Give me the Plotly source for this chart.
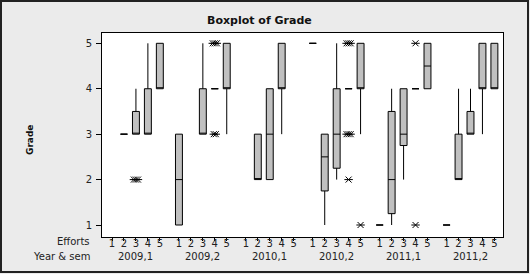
import plotly.graph_objects as go

# ---- data ----
year_sem = ["2009,1", "2009,2", "2010,1", "2010,2", "2011,1", "2011,2"]
efforts = [1, 2, 3, 4, 5]

# box statistics per (year_sem, effort); None = no data
q1 = [
    [None, 3, 3, 3, 4],
    [1, None, 3, 4, 4],
    [None, 2, 2, 4, None],
    [5, 1.75, 2.25, 4, 4],
    [1, 1.25, 2.75, 4, 4],
    [1, 2, 3, 4, 4],
]
median = [
    [None, 3, 3, 3, 4],
    [2, None, 3, 4, 4],
    [None, 2, 3, 4, None],
    [5, 2.5, 3, 4, 4],
    [1, 2, 3, 4, 4.5],
    [1, 2, 3, 4, 4],
]
q3 = [
    [None, 3, 3.5, 4, 5],
    [3, None, 4, 4, 5],
    [None, 3, 4, 5, None],
    [5, 3, 4, 4, 5],
    [1, 3.5, 4, 4, 5],
    [1, 3, 3.5, 5, 5],
]
low = [
    [None, 3, 3, 3, 4],
    [1, None, 3, 4, 3],
    [None, 2, 2, 3, None],
    [5, 1, 2, 4, 3],
    [1, 1, 2, 4, 4],
    [1, 2, 3, 3, 4],
]
high = [
    [None, 3, 4, 5, 5],
    [3, None, 5, 4, 5],
    [None, 3, 4, 5, None],
    [5, 3, 5, 4, 5],
    [1, 4, 4, 4, 5],
    [1, 4, 4, 5, 5],
]
# outliers: (year_sem index, effort, value, count of tied points)
outliers = [
    (0, 3, 2, 3),
    (1, 4, 5, 3),
    (1, 4, 3, 2),
    (3, 4, 5, 3),
    (3, 4, 3, 3),
    (3, 4, 2, 1),
    (3, 5, 1, 1),
    (4, 4, 5, 1),
    (4, 4, 1, 1),
]

# ---- layout helpers ----
GROUP_STEP = 5.6
def pos(g, e):
    return g * GROUP_STEP + (e - 1)

L, R, T, B = 102, 503, 33, 237
W, H = 530, 274
def px_x(p):
    return (p - L) / (R - L)
def px_y(p):
    return (B - p) / (B - T)

FONT = "DejaVu Sans"

xs, bq1, bmed, bq3, blo, bhi = [], [], [], [], [], []
for g in range(len(year_sem)):
    for i, e in enumerate(efforts):
        if q1[g][i] is None:
            continue
        xs.append(pos(g, e))
        bq1.append(q1[g][i]); bmed.append(median[g][i]); bq3.append(q3[g][i])
        blo.append(low[g][i]); bhi.append(high[g][i])

fig = go.Figure()
fig.add_trace(go.Box(
    x=xs, q1=bq1, median=bmed, q3=bq3, lowerfence=blo, upperfence=bhi,
    width=0.58, whiskerwidth=0, boxpoints=False,
    fillcolor="#C0C0C0", line=dict(color="black", width=1),
    hoverinfo="skip", showlegend=False,
))

ox, oy = [], []
for g, e, v, n in outliers:
    for k in range(n):
        off = (k - (n - 1) / 2) * 0.17
        ox.append(pos(g, e) + off)
        oy.append(v)
for sym in ["x-thin-open", "line-ew-open"]:
    fig.add_trace(go.Scatter(
        x=ox, y=oy, mode="markers",
        marker=dict(symbol=sym, size=6, color="black",
                    line=dict(color="black", width=1)),
        showlegend=False, hoverinfo="skip",
    ))

tickvals = [pos(g, e) for g in range(len(year_sem)) for e in efforts]
ticktext = [str(e) for g in range(len(year_sem)) for e in efforts]

fig.update_xaxes(
    range=[-0.84, 32.72], tickvals=tickvals, ticktext=ticktext,
    showgrid=False, zeroline=False, showline=True, mirror=True,
    linecolor="black", linewidth=1, ticks="outside", ticklen=3,
    tickcolor="black", tickfont=dict(family=FONT, size=10, color="#222"),
    ticklabelstandoff=-6,
)
fig.update_yaxes(
    range=[0.736, 5.227], tickvals=[1, 2, 3, 4, 5],
    showgrid=False, zeroline=False, showline=True, mirror=True,
    linecolor="black", linewidth=1, ticks="outside", ticklen=5,
    tickcolor="black", tickfont=dict(family=FONT, size=10, color="#222"),
    ticklabelstandoff=2,
)

ann = [
    dict(text="<b>Boxplot of Grade</b>", x=px_x(259.5), y=px_y(20),
         font=dict(family=FONT, size=11, color="#111")),
    dict(text="<b>Grade</b>", x=px_x(30), y=px_y(140), textangle=-90,
         font=dict(family=FONT, size=9, color="#111")),
    dict(text="Efforts", x=px_x(92), y=px_y(242), xanchor="right",
         font=dict(family=FONT, size=10, color="#222")),
    dict(text="Year & sem", x=px_x(92), y=px_y(256), xanchor="right",
         font=dict(family=FONT, size=10, color="#222")),
]
for a in ann:
    a.setdefault("xanchor", "center")
    a.update(xref="paper", yref="paper", yanchor="middle", showarrow=False)
for g, lab in enumerate(year_sem):
    ann.append(dict(text=lab, x=pos(g, 3), xref="x", y=px_y(256), yref="paper",
                    xanchor="center", yanchor="middle", showarrow=False,
                    font=dict(family=FONT, size=10, color="#222")))

fig.update_layout(
    width=W, height=H, margin=dict(l=L, r=W - R, t=T, b=H - B),
    paper_bgcolor="#EBEBEB", plot_bgcolor="white",
    annotations=ann,
    shapes=[dict(type="rect", xref="paper", yref="paper",
                 x0=px_x(1), x1=px_x(528), y0=px_y(1), y1=px_y(272),
                 line=dict(color="#222", width=2), fillcolor="rgba(0,0,0,0)",
                 layer="above")],
)

fig.write_html("out.html")
